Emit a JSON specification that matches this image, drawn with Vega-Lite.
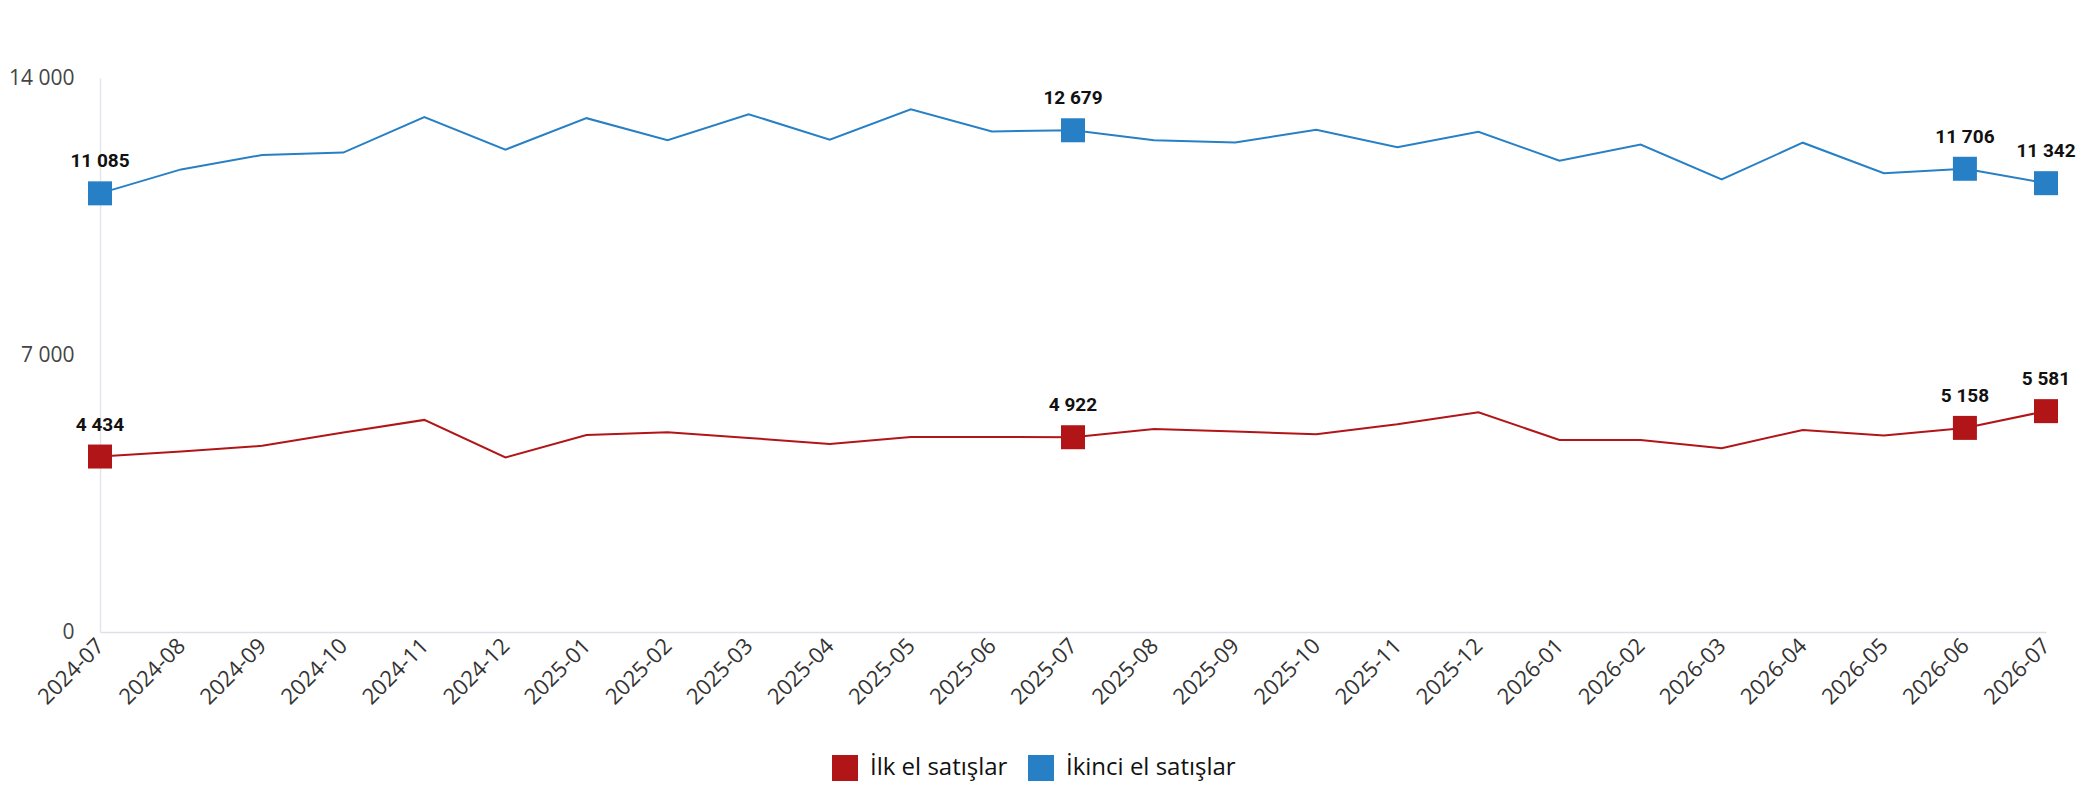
{
  "$schema": "https://vega.github.io/schema/vega-lite/v6.json",
  "width": 1946,
  "height": 554,
  "autosize": "none",
  "padding": {"left": 100, "top": 78, "right": 39, "bottom": 168},
  "background": "white",
  "datasets": {
    "sales": [
      {"month": "2024-07", "series": "İlk el satışlar", "value": 4434},
      {"month": "2024-08", "series": "İlk el satışlar", "value": 4560},
      {"month": "2024-09", "series": "İlk el satışlar", "value": 4705},
      {"month": "2024-10", "series": "İlk el satışlar", "value": 5040},
      {"month": "2024-11", "series": "İlk el satışlar", "value": 5360},
      {"month": "2024-12", "series": "İlk el satışlar", "value": 4410},
      {"month": "2025-01", "series": "İlk el satışlar", "value": 4980},
      {"month": "2025-02", "series": "İlk el satışlar", "value": 5050},
      {"month": "2025-03", "series": "İlk el satışlar", "value": 4905},
      {"month": "2025-04", "series": "İlk el satışlar", "value": 4750},
      {"month": "2025-05", "series": "İlk el satışlar", "value": 4930},
      {"month": "2025-06", "series": "İlk el satışlar", "value": 4930},
      {"month": "2025-07", "series": "İlk el satışlar", "value": 4922},
      {"month": "2025-08", "series": "İlk el satışlar", "value": 5130},
      {"month": "2025-09", "series": "İlk el satışlar", "value": 5065},
      {"month": "2025-10", "series": "İlk el satışlar", "value": 5000},
      {"month": "2025-11", "series": "İlk el satışlar", "value": 5250},
      {"month": "2025-12", "series": "İlk el satışlar", "value": 5550},
      {"month": "2026-01", "series": "İlk el satışlar", "value": 4855},
      {"month": "2026-02", "series": "İlk el satışlar", "value": 4855},
      {"month": "2026-03", "series": "İlk el satışlar", "value": 4645},
      {"month": "2026-04", "series": "İlk el satışlar", "value": 5105},
      {"month": "2026-05", "series": "İlk el satışlar", "value": 4965},
      {"month": "2026-06", "series": "İlk el satışlar", "value": 5158},
      {"month": "2026-07", "series": "İlk el satışlar", "value": 5581},
      {"month": "2024-07", "series": "İkinci el satışlar", "value": 11085},
      {"month": "2024-08", "series": "İkinci el satışlar", "value": 11690},
      {"month": "2024-09", "series": "İkinci el satışlar", "value": 12055},
      {"month": "2024-10", "series": "İkinci el satışlar", "value": 12115},
      {"month": "2024-11", "series": "İkinci el satışlar", "value": 13010},
      {"month": "2024-12", "series": "İkinci el satışlar", "value": 12190},
      {"month": "2025-01", "series": "İkinci el satışlar", "value": 12985},
      {"month": "2025-02", "series": "İkinci el satışlar", "value": 12430},
      {"month": "2025-03", "series": "İkinci el satışlar", "value": 13085},
      {"month": "2025-04", "series": "İkinci el satışlar", "value": 12440},
      {"month": "2025-05", "series": "İkinci el satışlar", "value": 13210},
      {"month": "2025-06", "series": "İkinci el satışlar", "value": 12650},
      {"month": "2025-07", "series": "İkinci el satışlar", "value": 12679},
      {"month": "2025-08", "series": "İkinci el satışlar", "value": 12430},
      {"month": "2025-09", "series": "İkinci el satışlar", "value": 12370},
      {"month": "2025-10", "series": "İkinci el satışlar", "value": 12690},
      {"month": "2025-11", "series": "İkinci el satışlar", "value": 12250},
      {"month": "2025-12", "series": "İkinci el satışlar", "value": 12640},
      {"month": "2026-01", "series": "İkinci el satışlar", "value": 11910},
      {"month": "2026-02", "series": "İkinci el satışlar", "value": 12320},
      {"month": "2026-03", "series": "İkinci el satışlar", "value": 11435},
      {"month": "2026-04", "series": "İkinci el satışlar", "value": 12365},
      {"month": "2026-05", "series": "İkinci el satışlar", "value": 11595},
      {"month": "2026-06", "series": "İkinci el satışlar", "value": 11706},
      {"month": "2026-07", "series": "İkinci el satışlar", "value": 11342}
    ]
  },
  "data": {"name": "sales"},
  "encoding": {
    "x": {
      "field": "month",
      "type": "ordinal",
      "scale": {"type": "point", "padding": 0},
      "axis": {
        "title": null,
        "labelAngle": -45,
        "labelAlign": "right",
        "labelBaseline": "middle",
        "labelPadding": 10,
        "labelFont": "Open Sans",
        "labelFontSize": 22,
        "labelColor": "#333333",
        "ticks": false,
        "domainColor": "#dde0e6",
        "domainWidth": 1.5
      }
    },
    "y": {
      "field": "value",
      "type": "quantitative",
      "scale": {"domain": [0, 14000], "nice": false},
      "axis": {
        "title": null,
        "values": [0, 7000, 14000],
        "format": ",d",
        "grid": false,
        "ticks": false,
        "labelPadding": 26,
        "labelFont": "Open Sans",
        "labelFontSize": 21,
        "labelColor": "#444444",
        "domainColor": "#e3e5ec",
        "domainWidth": 1.5
      }
    }
  },
  "layer": [
    {
      "mark": {"type": "line", "strokeWidth": 2},
      "encoding": {
        "color": {
          "field": "series",
          "type": "nominal",
          "scale": {"domain": ["İlk el satışlar", "İkinci el satışlar"], "range": ["#b11518", "#2780c5"]},
          "legend": {
            "title": null,
            "orient": "none",
            "legendX": 732,
            "legendY": 677,
            "direction": "horizontal",
            "symbolType": "square",
            "symbolSize": 676,
            "symbolOpacity": 1,
            "symbolStrokeWidth": 0,
            "labelFont": "Open Sans",
            "labelFontSize": 24,
            "labelColor": "#111111",
            "labelLimit": 400,
            "columnPadding": 20,
            "labelOffset": 12
          }
        }
      }
    },
    {
      "transform": [{"filter": {"field": "month", "oneOf": ["2024-07", "2025-07", "2026-06", "2026-07"]}}],
      "mark": {"type": "point", "shape": "square", "filled": true, "size": 576, "opacity": 1},
      "encoding": {
        "color": {"field": "series", "type": "nominal"}
      }
    },
    {
      "transform": [{"filter": {"field": "month", "oneOf": ["2024-07", "2025-07", "2026-06", "2026-07"]}}],
      "mark": {"type": "text", "font": "Roboto", "fontWeight": "bold", "fontSize": 19, "color": "#111111", "baseline": "bottom", "dy": -22},
      "encoding": {
        "text": {"field": "value", "type": "quantitative", "format": ",d"}
      }
    }
  ],
  "config": {
    "view": {"stroke": null},
    "legend": {"symbolType": "square"},
    "locale": {"number": {"decimal": ",", "thousands": " ", "grouping": [3], "currency": ["", ""]}}
  }
}
